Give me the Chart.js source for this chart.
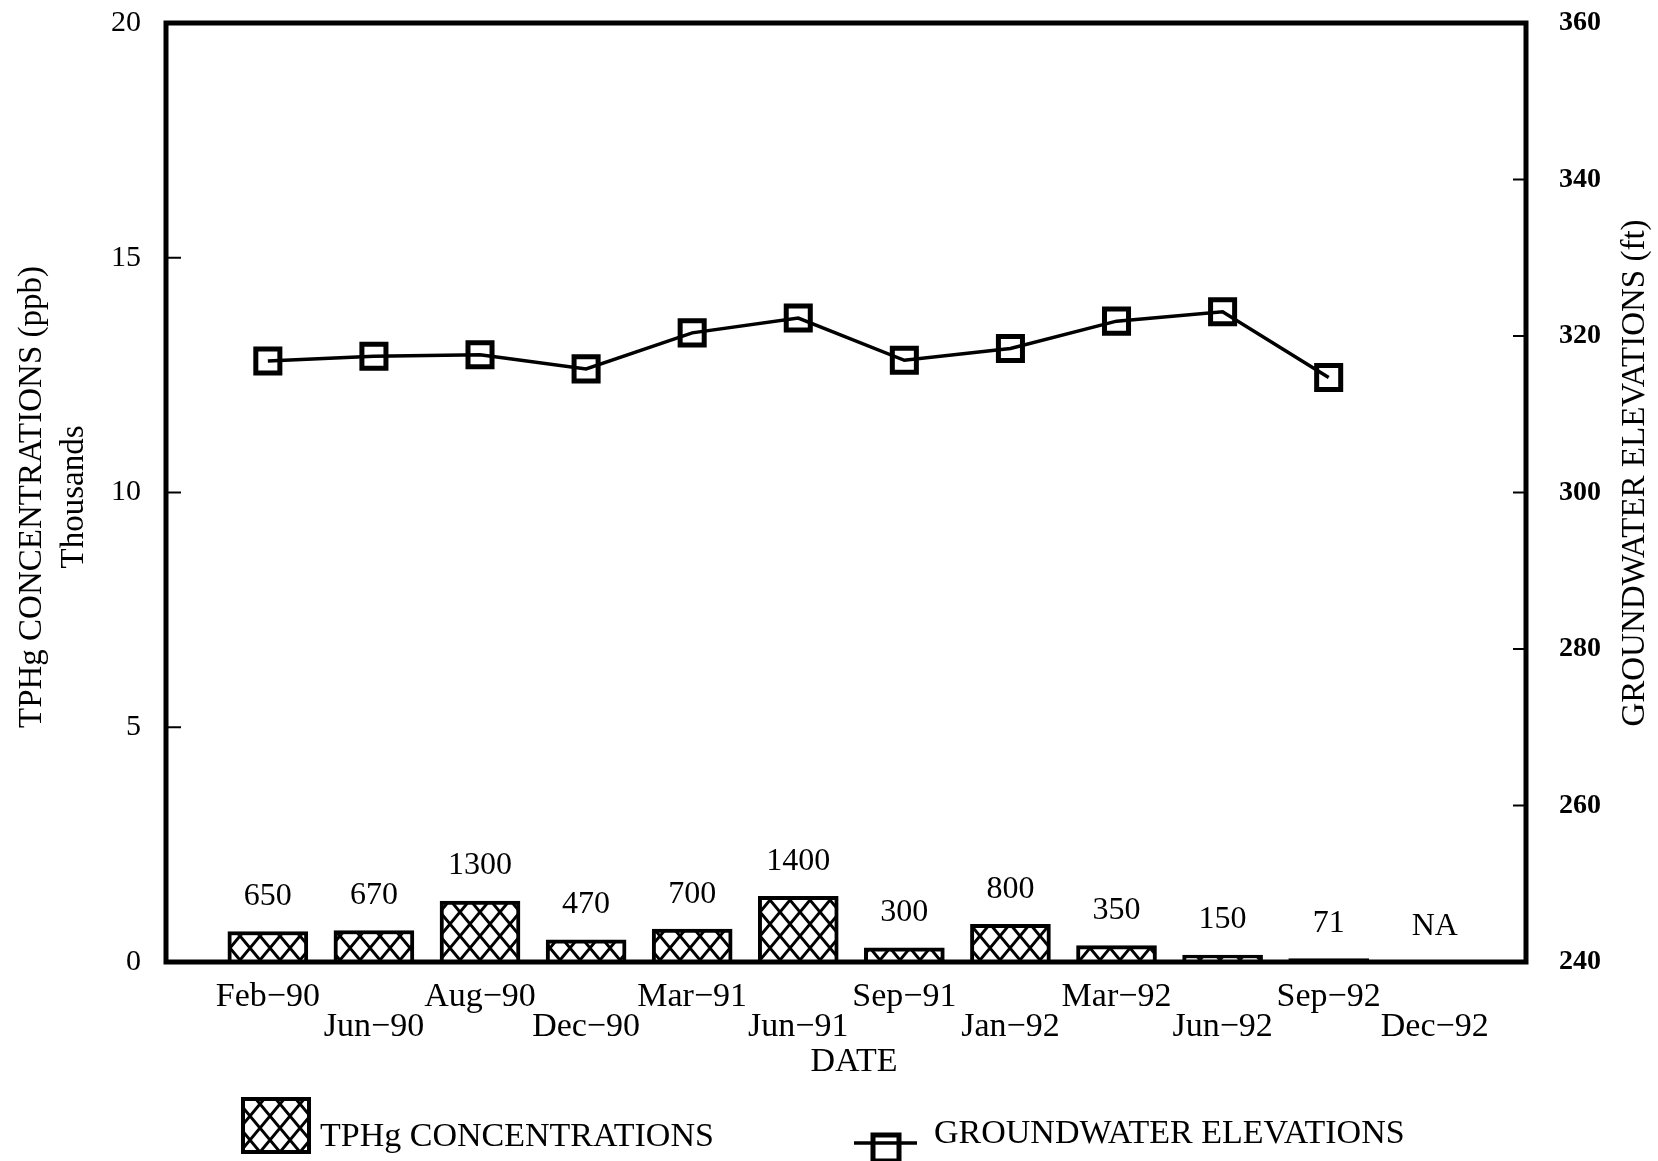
<!DOCTYPE html>
<html><head><meta charset="utf-8">
<script src="https://cdn.jsdelivr.net/npm/chart.js@4.4.1/dist/chart.umd.min.js"></script>
<style>html,body{margin:0;padding:0;background:#fff;overflow:hidden;}</style>
</head><body>
<canvas id="c" width="1658" height="1161" style="width:1658px;height:1161px;display:block"></canvas>
<script>
// ---- data ----
const dates = ['Feb−90','Jun−90','Aug−90','Dec−90','Mar−91','Jun−91','Sep−91','Jan−92','Mar−92','Jun−92','Sep−92','Dec−92'];
const tphgPpb = [650, 670, 1300, 470, 700, 1400, 300, 800, 350, 150, 71, null];
const gwElevationFt = [316.8, 317.4, 317.6, 315.8, 320.4, 322.3, 316.9, 318.4, 321.9, 323.1, 314.7, null];
const leftTickValues = [0, 5000, 10000, 15000, 20000];
const rightTickValues = [240, 260, 280, 300, 320, 340, 360];
const leftTitle = ['TPHg CONCENTRATIONS (ppb)', 'Thousands'];
const rightTitle = 'GROUNDWATER ELEVATIONS (ft)';
const xTitle = 'DATE';
const legendLabels = ['TPHg CONCENTRATIONS', 'GROUNDWATER ELEVATIONS'];

const SERIF = '"Liberation Serif", "DejaVu Serif", serif';

function makeHatch() {
  const w = 20, h = 24;
  const c = document.createElement('canvas');
  c.width = w; c.height = h;
  const g = c.getContext('2d');
  g.fillStyle = '#fff'; g.fillRect(0, 0, w, h);
  g.strokeStyle = '#000'; g.lineWidth = 3;
  g.beginPath();
  g.moveTo(0, 0); g.lineTo(w, h);
  g.moveTo(w, 0); g.lineTo(0, h);
  g.stroke();
  return document.getElementById('c').getContext('2d').createPattern(c, 'repeat');
}

const decor = {
  id: 'decor',
  afterDraw(chart) {
    const ctx = chart.ctx;
    const a = chart.chartArea;
    const xs = chart.scales.x, ys = chart.scales.y, ys1 = chart.scales.y1;
    ctx.save();
    // inward ticks
    ctx.strokeStyle = '#000';
    ctx.lineWidth = 2;
    ys.ticks.forEach(t => {
      if (t.value <= ys.min || t.value >= ys.max) return;
      const y = ys.getPixelForValue(t.value);
      ctx.beginPath(); ctx.moveTo(a.left, y); ctx.lineTo(a.left + 15, y); ctx.stroke();
    });
    ys1.ticks.forEach(t => {
      if (t.value <= ys1.min || t.value >= ys1.max) return;
      const y = ys1.getPixelForValue(t.value);
      ctx.beginPath(); ctx.moveTo(a.right - 13, y); ctx.lineTo(a.right, y); ctx.stroke();
    });
    // frame
    ctx.lineWidth = 5;
    ctx.strokeRect(a.left, a.top, a.right - a.left, a.bottom - a.top);

    // bar value labels
    ctx.fillStyle = '#000';
    ctx.font = '32px ' + SERIF;
    ctx.textAlign = 'center';
    ctx.textBaseline = 'middle';
    tphgPpb.forEach((v, i) => {
      const x = xs.getPixelForValue(i);
      const y = ys.getPixelForValue(v == null ? 0 : v) - 35;
      ctx.fillText(v == null ? 'NA' : String(v), x, y);
    });

    // left titles
    ctx.save();
    ctx.translate(32, 497); ctx.rotate(-Math.PI / 2);
    ctx.font = '33px ' + SERIF;
    ctx.fillText(leftTitle[0], 0, 0);
    ctx.restore();
    ctx.save();
    ctx.translate(74, 497); ctx.rotate(-Math.PI / 2);
    ctx.font = '33px ' + SERIF;
    ctx.fillText(leftTitle[1], 0, 0);
    ctx.restore();
    // right title
    ctx.save();
    ctx.translate(1635, 473); ctx.rotate(-Math.PI / 2);
    ctx.font = '33px ' + SERIF;
    ctx.fillText(rightTitle, 0, 0);
    ctx.restore();
    // x title
    ctx.font = '34px ' + SERIF;
    ctx.fillText(xTitle, 854, 1062);

    // legend
    ctx.fillStyle = hatch;
    ctx.fillRect(243, 1099, 66, 53);
    ctx.lineWidth = 4; ctx.strokeStyle = '#000';
    ctx.strokeRect(243, 1099, 66, 53);
    ctx.fillStyle = '#000';
    ctx.textAlign = 'left';
    ctx.font = '34px ' + SERIF;
    ctx.fillText(legendLabels[0], 320, 1137);
    ctx.lineWidth = 3.5;
    ctx.beginPath(); ctx.moveTo(854, 1143); ctx.lineTo(917, 1143); ctx.stroke();
    ctx.lineWidth = 5;
    ctx.strokeRect(873, 1135, 26, 26);
    ctx.fillText(legendLabels[1], 934, 1134);
    ctx.restore();
  }
};

let hatch;
function build() {
  hatch = makeHatch();
  new Chart(document.getElementById('c'), {
    type: 'bar',
    data: {
      datasets: [
        {
          type: 'line',
          label: legendLabels[1],
          data: gwElevationFt.map((v, i) => ({ x: i, y: v })),
          xAxisID: 'x', yAxisID: 'y1',
          borderColor: '#000', borderWidth: 3.5,
          pointStyle: 'rect', pointRadius: 17, pointBorderWidth: 5,
          pointBackgroundColor: 'rgba(0,0,0,0)', pointBorderColor: '#000',
          tension: 0, spanGaps: false, order: 1
        },
        {
          type: 'bar',
          label: legendLabels[0],
          data: tphgPpb.map((v, i) => ({ x: i, y: v })),
          xAxisID: 'x', yAxisID: 'y',
          backgroundColor: hatch, borderColor: '#000', borderWidth: 4,
          barThickness: 80, order: 2
        }
      ]
    },
    options: {
      responsive: false,
      animation: false,
      layout: { padding: { top: 23, left: 0, right: 0, bottom: 0 } },
      plugins: { legend: { display: false }, tooltip: { enabled: false } },
      scales: {
        x: {
          type: 'linear', position: 'bottom', min: -0.96, max: 11.86, offset: false,
          grid: { display: false, drawTicks: false, offset: false }, border: { display: false },
          afterBuildTicks: s => { s.ticks = dates.map((d, i) => ({ value: i })); },
          afterFit: s => { s.height = 199; s.paddingLeft = 0; s.paddingRight = 0; },
          ticks: {
            autoSkip: false, maxRotation: 0, minRotation: 0, padding: 20, color: '#000',
            font: { family: SERIF, size: 34, lineHeight: 0.88 },
            callback: v => { const i = Math.round(v); return i % 2 === 0 ? [dates[i]] : ['', dates[i]]; }
          }
        },
        y: {
          type: 'linear', position: 'left', min: 0, max: 20000,
          grid: { display: false, drawTicks: false }, border: { display: false },
          afterBuildTicks: s => { s.ticks = leftTickValues.map(v => ({ value: v })); },
          afterFit: s => { s.width = 166; s.paddingTop = 0; s.paddingBottom = 0; },
          ticks: { padding: 25, color: '#000', font: { family: SERIF, size: 30 }, callback: v => String(v / 1000) }
        },
        y1: {
          type: 'linear', position: 'right', min: 240, max: 360,
          grid: { display: false, drawTicks: false }, border: { display: false },
          afterBuildTicks: s => { s.ticks = rightTickValues.map(v => ({ value: v })); },
          afterFit: s => { s.width = 132; s.paddingTop = 0; s.paddingBottom = 0; },
          ticks: { padding: 33, color: '#000', font: { family: SERIF, size: 28, weight: 'bold' }, callback: v => String(v) }
        }
      }
    },
    plugins: [decor]
  });
}
const fontLoads = [
  document.fonts.load('32px "Liberation Serif"'),
  document.fonts.load('bold 28px "Liberation Serif"')
];
Promise.all(fontLoads).then(build, build);
</script>
</body></html>
